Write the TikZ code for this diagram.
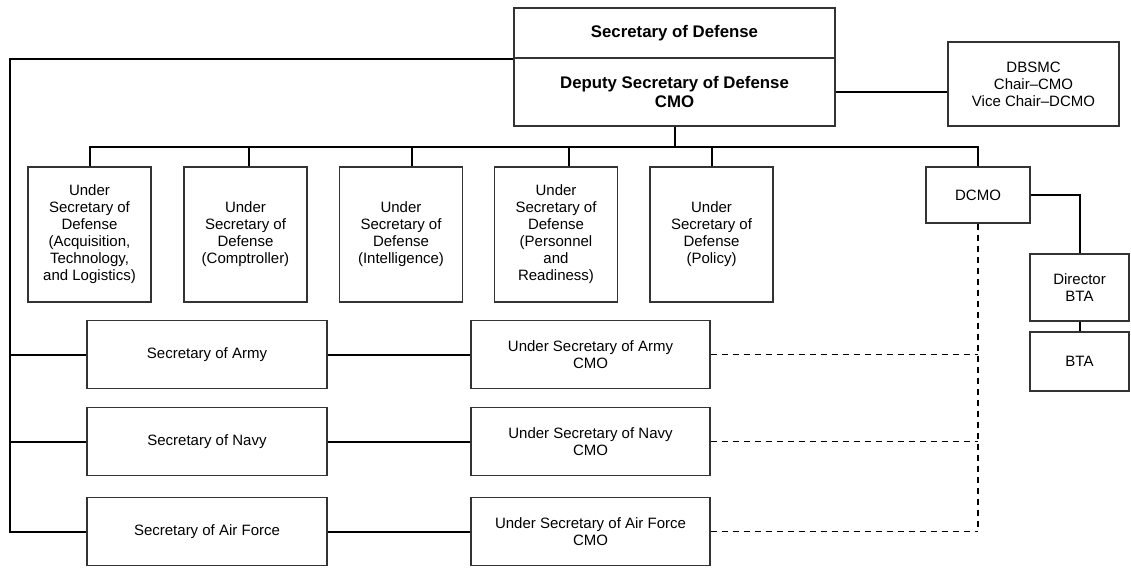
\documentclass[tikz,border=0pt]{standalone}
\usepackage{fontspec}
\setmainfont{Liberation Sans}
\begin{document}
\begin{tikzpicture}[x=1pt,y=-1pt,
  box/.style={draw=black!80,line width=1.3pt,rectangle,inner sep=2pt,align=center,
    font=\fontsize{15}{17}\selectfont},
  bbox/.style={box,font=\fontsize{16.8}{18.5}\selectfont\bfseries},
  conn/.style={draw=black,line width=2pt},
  dconn/.style={draw=black,line width=1.6pt,dash pattern=on 6pt off 5pt}]
\useasboundingbox (0,0) rectangle (1131,572);
% top
\node[bbox,minimum width=321pt,minimum height=50pt] (sd) at (674.5,33) {Secretary of Defense};
\node[bbox,minimum width=321pt,minimum height=68pt] (dsd) at (674.5,92) {Deputy Secretary of Defense\\CMO};
\node[box,minimum width=171pt,minimum height=84pt] (dbsmc) at (1033.5,84) {DBSMC\\Chair--CMO\\Vice Chair--DCMO};
% under secretaries
\node[box,minimum width=123pt,minimum height=135pt] (u1) at (89.5,234.5) {Under\\Secretary of\\Defense\\(Acquisition,\\Technology,\\and Logistics)};
\node[box,minimum width=123pt,minimum height=135pt] (u2) at (245.5,234.5) {Under\\Secretary of\\Defense\\(Comptroller)};
\node[box,minimum width=123pt,minimum height=135pt] (u3) at (401,234.5) {Under\\Secretary of\\Defense\\(Intelligence)};
\node[box,minimum width=123pt,minimum height=135pt] (u4) at (556,234.5) {Under\\Secretary of\\Defense\\(Personnel\\and\\Readiness)};
\node[box,minimum width=123pt,minimum height=135pt] (u5) at (711.5,234.5) {Under\\Secretary of\\Defense\\(Policy)};
\node[box,minimum width=104pt,minimum height=56pt] (dcmo) at (978,195) {DCMO};
\node[box,minimum width=99pt,minimum height=67pt] (dir) at (1079.5,287.5) {Director\\BTA};
\node[box,minimum width=99pt,minimum height=59pt] (bta) at (1079.5,361.5) {BTA};
% services
\node[box,minimum width=240pt,minimum height=68pt] (sa) at (207,354.5) {Secretary of Army};
\node[box,minimum width=240pt,minimum height=68pt] (sn) at (207,441.5) {Secretary of Navy};
\node[box,minimum width=240pt,minimum height=68pt] (sf) at (207,531.5) {Secretary of Air Force};
\node[box,minimum width=239pt,minimum height=68pt] (usa) at (590.5,354.5) {Under Secretary of Army\\CMO};
\node[box,minimum width=239pt,minimum height=68pt] (usn) at (590.5,441.5) {Under Secretary of Navy\\CMO};
\node[box,minimum width=239pt,minimum height=68pt] (usf) at (590.5,531.5) {Under Secretary of Air Force\\CMO};
% helper coordinates
\coordinate (L) at (10,0);
\coordinate (bus) at (0,147);
% connectors
\draw[conn] (sd.south west) -- (sd.south west -| L) |- (sf.west);
\draw[conn] (L |- sa.west) -- (sa.west);
\draw[conn] (L |- sn.west) -- (sn.west);
\draw[conn] (dsd.east) -- (dsd.east -| dbsmc.west);
\draw[conn] (dsd.south) -- (dsd.south |- bus);
\draw[conn] (u1.north) -- (u1.north |- bus) -| (dcmo.north);
\draw[conn] ([xshift=3.5pt]u2.north) -- ([xshift=3.5pt]u2.north |- bus);
\draw[conn] ([xshift=10.5pt]u3.north) -- ([xshift=10.5pt]u3.north |- bus);
\draw[conn] ([xshift=13pt]u4.north) -- ([xshift=13pt]u4.north |- bus);
\draw[conn] (u5.north) -- (u5.north |- bus);
\draw[conn] (dcmo.east) -| (dir.north);
\draw[conn] (dir.south) -- (bta.north);
\draw[conn] (sa.east) -- (usa.west);
\draw[conn] (sn.east) -- (usn.west);
\draw[conn] (sf.east) -- (usf.west);
\draw[dconn] (dcmo.south) -- (dcmo.south |- usf.east);
\draw[dconn] (usa.east) -- (usa.east -| dcmo.south);
\draw[dconn] (usn.east) -- (usn.east -| dcmo.south);
\draw[dconn] (usf.east) -- (usf.east -| dcmo.south);
\end{tikzpicture}
\end{document}
